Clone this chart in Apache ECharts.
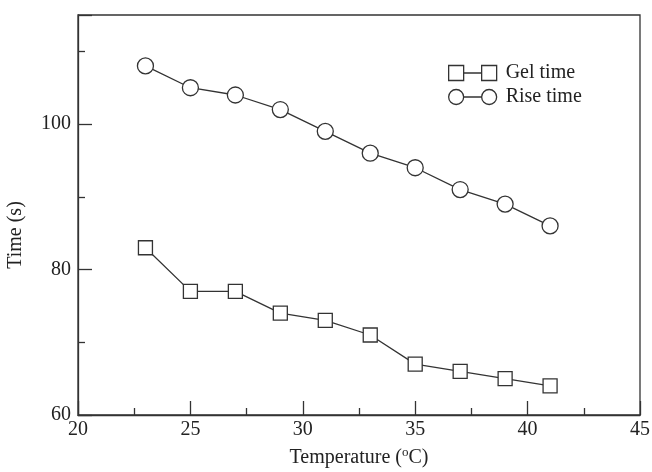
<!DOCTYPE html>
<html>
<head>
<meta charset="utf-8">
<script src="https://cdn.jsdelivr.net/npm/echarts@6/dist/echarts.min.js"></script>
<style>
  html, body { margin: 0; padding: 0; background: #fff; }
  #main { width: 652px; height: 472px; }
</style>
</head>
<body>
<div id="main"></div>
<script>
// data
var temperature = [23, 25, 27, 29, 31, 33, 35, 37, 39, 41];
var gelTime = [83, 77, 77, 74, 73, 71, 67, 66, 65, 64];
var riseTime = [108, 105, 104, 102, 99, 96, 94, 91, 89, 86];

var font = 'Liberation Serif';
var ink = '#333';

function pairs(xs, ys) {
    return xs.map(function (x, i) { return [x, ys[i]]; });
}

var myChart = echarts.init(document.getElementById('main'));

var option = {
    animation: false,
    backgroundColor: '#fff',
    grid: { left: 78, right: 12, top: 15, bottom: 57, outerBoundsMode: 'none' },
    legend: {
        left: 443,
        top: 58,
        orient: 'vertical',
        itemGap: 4,
        itemWidth: 48,
        itemHeight: 15,
        textStyle: { fontFamily: font, fontSize: 20, color: '#222', padding: [0, 0, 0, 4] },
        data: [
            { name: 'Gel time', icon: 'path://M0,0H15V15H0Z M15,7.5H33 M33,0H48V15H33Z' },
            { name: 'Rise time', icon: 'path://M0,7.5A7.5,7.5,0,1,0,15,7.5A7.5,7.5,0,1,0,0,7.5Z M15,7.5H33 M33,7.5A7.5,7.5,0,1,0,48,7.5A7.5,7.5,0,1,0,33,7.5Z' }
        ],
        itemStyle: { color: '#fff', borderColor: ink, borderWidth: 1.3 }
    },
    xAxis: {
        type: 'value',
        min: 20,
        max: 45,
        interval: 5,
        name: 'Temperature ({sup|o}C)',
        nameLocation: 'middle',
        nameGap: 31,
        nameTextStyle: {
            fontFamily: font, fontSize: 20, color: '#222',
            rich: { sup: { fontFamily: font, fontSize: 13, verticalAlign: 'top', padding: [0, 0, 10, 0] } }
        },
        axisLine: { lineStyle: { color: ink, width: 1.3 } },
        axisTick: { inside: true, length: 14, lineStyle: { color: ink, width: 1.3 } },
        minorTick: { show: true, splitNumber: 2, length: 7, lineStyle: { color: ink, width: 1.3 } },
        axisLabel: { fontFamily: font, fontSize: 20, color: '#222', margin: 5 },
        splitLine: { show: false }
    },
    yAxis: {
        type: 'value',
        min: 60,
        max: 115,
        interval: 20,
        name: 'Time (s)',
        nameLocation: 'middle',
        nameGap: 52,
        nameTextStyle: { fontFamily: font, fontSize: 20, color: '#222', padding: [0, 40, 0, 0] },
        axisLine: { lineStyle: { color: ink, width: 1.3 } },
        axisTick: { inside: true, length: 14, lineStyle: { color: ink, width: 1.3 } },
        minorTick: { show: true, splitNumber: 2, length: 7, lineStyle: { color: ink, width: 1.3 } },
        axisLabel: { fontFamily: font, fontSize: 20, color: '#222', margin: 7, showMaxLabel: false },
        splitLine: { show: false }
    },
    graphic: [{
        type: 'rect',
        shape: { x: 78, y: 15, width: 562, height: 400 },
        style: { fill: 'none', stroke: ink, lineWidth: 1.3 },
        silent: true
    }],
    series: [
        {
            name: 'Gel time',
            type: 'line',
            data: pairs(temperature, gelTime),
            symbol: 'rect',
            symbolSize: 14,
            showAllSymbol: true,
            lineStyle: { color: ink, width: 1.3 },
            itemStyle: { color: '#fff', borderColor: ink, borderWidth: 1.3 }
        },
        {
            name: 'Rise time',
            type: 'line',
            data: pairs(temperature, riseTime),
            symbol: 'circle',
            symbolSize: 16,
            showAllSymbol: true,
            lineStyle: { color: ink, width: 1.3 },
            itemStyle: { color: '#fff', borderColor: ink, borderWidth: 1.3 }
        }
    ]
};

myChart.setOption(option);
</script>
</body>
</html>
